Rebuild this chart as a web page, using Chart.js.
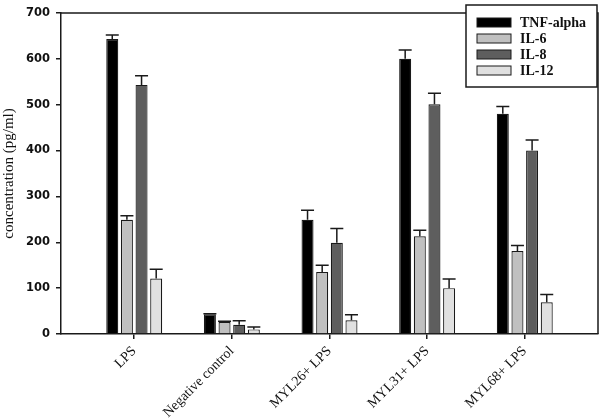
<!DOCTYPE html>
<html>
<head>
<meta charset="utf-8">
<script src="https://cdn.jsdelivr.net/npm/chart.js@4/dist/chart.umd.min.js"></script>
<style>
  body { margin: 0; background: #fff; }
  canvas { display: block; }
</style>
</head>
<body>
<canvas id="cytokineChart" width="600" height="418"></canvas>
<script>
// Data
const categories = ['LPS', 'Negative control', 'MYL26+ LPS', 'MYL31+ LPS', 'MYL68+ LPS'];
const seriesNames = ['TNF-alpha', 'IL-6', 'IL-8', 'IL-12'];
const tnfValues  = [643, 43, 249, 600, 480];
const tnfErrors  = [9, 1, 21, 19, 16];
const il6Values  = [249, 26, 135, 213, 181];
const il6Errors  = [9, 2, 15, 13, 12];
const il8Values  = [543, 20, 199, 501, 400];
const il8Errors  = [20, 9, 31, 24, 23];
const il12Values = [121, 10, 30, 100, 69];
const il12Errors = [20, 5, 12, 20, 17];
const yTicks = [0, 100, 200, 300, 400, 500, 600, 700];

const fills = ['#000000', '#c0c0c0', '#5e5e5e', '#e0e0e0'];
const allValues = [tnfValues, il6Values, il8Values, il12Values];
const allErrors = [tnfErrors, il6Errors, il8Errors, il12Errors];

// bars sit on a linear x axis so the frame can extend past the outer groups
const datasets = seriesNames.map((name, i) => ({
    label: name,
    data: allValues[i].map((v, j) => ({ x: j, y: v })),
    errors: allErrors[i],
    backgroundColor: fills[i],
    borderColor: '#1a1a1a',
    borderWidth: 1.2,
    barPercentage: 0.82,
    categoryPercentage: 0.6
}));

// Error bars (upper only, with cap)
const errorBarPlugin = {
    id: 'errorBars',
    afterDatasetsDraw(chart) {
        const ctx = chart.ctx;
        const yScale = chart.scales.y;
        ctx.save();
        ctx.strokeStyle = '#1a1a1a';
        ctx.lineWidth = 1.5;
        chart.data.datasets.forEach((ds, i) => {
            const meta = chart.getDatasetMeta(i);
            meta.data.forEach((bar, j) => {
                const top = yScale.getPixelForValue(ds.data[j].y + ds.errors[j]);
                const half = bar.width / 2 + 0.5;
                ctx.beginPath();
                ctx.moveTo(bar.x, bar.y);
                ctx.lineTo(bar.x, top);
                ctx.moveTo(bar.x - half, top);
                ctx.lineTo(bar.x + half, top);
                ctx.stroke();
            });
        });
        ctx.restore();
    }
};

// Top/right frame and boxed legend in the top right corner
const framePlugin = {
    id: 'frameLegend',
    afterDraw(chart) {
        const ctx = chart.ctx;
        const a = chart.chartArea;
        ctx.save();
        ctx.strokeStyle = '#1a1a1a';
        ctx.lineWidth = 1.5;
        ctx.beginPath();
        ctx.moveTo(a.left, a.top);
        ctx.lineTo(a.right, a.top);
        ctx.lineTo(a.right, a.bottom);
        ctx.stroke();

        // legend box
        const bx = 466, by = 5, bw = 131, bh = 82;
        ctx.fillStyle = '#fff';
        ctx.fillRect(bx, by, bw, bh);
        ctx.strokeRect(bx, by, bw, bh);
        ctx.font = 'bold 14px "Liberation Serif", serif';
        ctx.textBaseline = 'middle';
        chart.data.datasets.forEach((ds, i) => {
            const sy = 18 + i * 16;
            ctx.fillStyle = ds.backgroundColor;
            ctx.fillRect(477, sy, 34, 9);
            ctx.lineWidth = 1;
            ctx.strokeRect(477, sy, 34, 9);
            ctx.fillStyle = '#111';
            ctx.fillText(ds.label, 520, sy + 5);
        });
        ctx.restore();
    }
};

new Chart(document.getElementById('cytokineChart'), {
    type: 'bar',
    data: { datasets },
    options: {
        responsive: false,
        animation: false,
        layout: { padding: { top: 6, right: 2, left: 0, bottom: 0 } },
        plugins: {
            legend: { display: false },
            tooltip: { enabled: false }
        },
        scales: {
            x: {
                type: 'linear',
                min: -0.75,
                max: 4.75,
                offset: false,
                afterBuildTicks: (scale) => {
                    scale.ticks = categories.map((c, i) => ({ value: i }));
                },
                afterFit: (scale) => { scale.height = 84; },
                ticks: {
                    callback: (v) => categories[v],
                    minRotation: 45,
                    maxRotation: 45,
                    color: '#111',
                    font: { family: '"Liberation Serif", serif', size: 14 },
                    padding: 4
                },
                grid: { drawOnChartArea: false, offset: false, tickLength: 5, color: '#1a1a1a', lineWidth: 1.5 },
                border: { color: '#1a1a1a', width: 1.5 }
            },
            y: {
                min: 0,
                max: 700,
                afterBuildTicks: (scale) => {
                    scale.ticks = yTicks.map(v => ({ value: v }));
                },
                afterFit: (scale) => { scale.width = 61; },
                ticks: {
                    color: '#111',
                    font: { family: '"DejaVu Sans", sans-serif', size: 11.5, weight: 'bold' },
                    padding: 6
                },
                grid: { drawOnChartArea: false, tickLength: 5, color: '#1a1a1a', lineWidth: 1.5 },
                border: { color: '#1a1a1a', width: 1.5 },
                title: {
                    display: true,
                    text: 'concentration (pg/ml)',
                    color: '#111',
                    font: { family: '"Liberation Serif", serif', size: 15 },
                    padding: { top: 0, bottom: 0 }
                }
            }
        }
    },
    plugins: [errorBarPlugin, framePlugin]
});
</script>
</body>
</html>
